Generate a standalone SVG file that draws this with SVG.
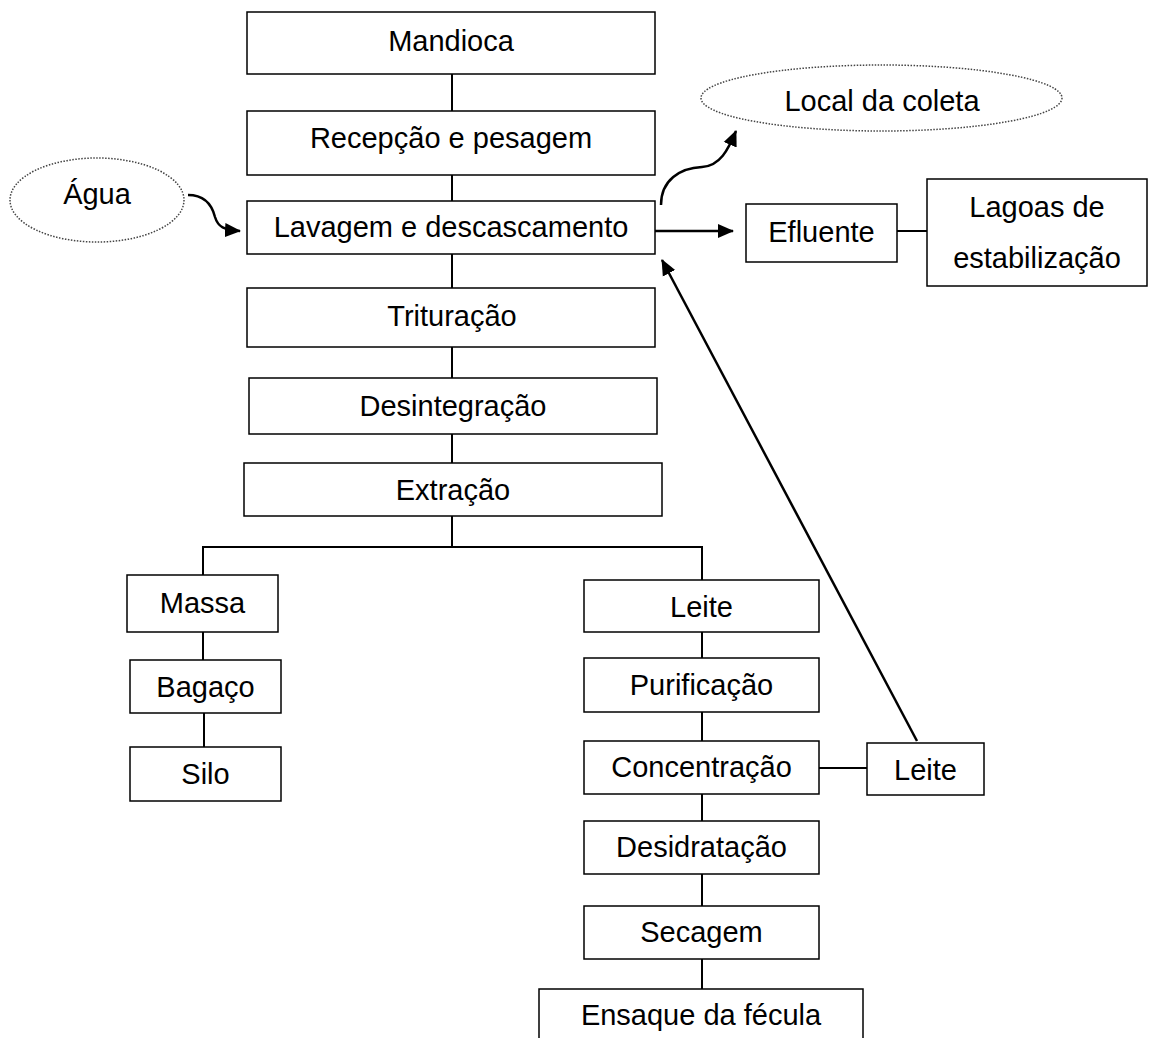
<svg xmlns="http://www.w3.org/2000/svg" width="1149" height="1038" viewBox="0 0 1149 1038">
<defs>
<style>
.box{fill:#fff;stroke:#000;stroke-width:1.5}
.ell{fill:#fff;stroke:#444;stroke-width:1.5;stroke-dasharray:1.5 1.5}
.t{font-family:"Liberation Sans",Arial,sans-serif;font-size:29px;fill:#000;text-anchor:middle}
.c{stroke:#000;stroke-width:2;fill:none}
.a{stroke:#000;stroke-width:2.5;fill:none}
</style>
<marker id="ah" markerWidth="10" markerHeight="10" refX="9" refY="5" orient="auto" markerUnits="userSpaceOnUse" viewBox="0 0 10 10">
<path d="M0,0 L10,5 L0,10 Z" fill="#000"/>
</marker>
<marker id="ahb" markerWidth="16" markerHeight="16" refX="15" refY="8" orient="auto" markerUnits="userSpaceOnUse" viewBox="0 0 16 16">
<path d="M0,1 L16,8 L0,15 Z" fill="#000"/>
</marker>
</defs>
<rect width="1149" height="1038" fill="#fff"/>
<g id="connectors">
<line class="c" x1="452" y1="74" x2="452" y2="111"/>
<line class="c" x1="452" y1="175" x2="452" y2="201"/>
<line class="c" x1="452" y1="254" x2="452" y2="288"/>
<line class="c" x1="452" y1="347" x2="452" y2="378"/>
<line class="c" x1="452" y1="434" x2="452" y2="463"/>
<line class="c" x1="452" y1="516" x2="452" y2="547"/>
<polyline class="c" points="203,575 203,547 702,547 702,580"/>
<line class="c" x1="203" y1="632" x2="203" y2="660"/>
<line class="c" x1="204" y1="713" x2="204" y2="747"/>
<line class="c" x1="702" y1="632" x2="702" y2="658"/>
<line class="c" x1="702" y1="712" x2="702" y2="741"/>
<line class="c" x1="702" y1="794" x2="702" y2="821"/>
<line class="c" x1="702" y1="874" x2="702" y2="906"/>
<line class="c" x1="702" y1="959" x2="702" y2="989"/>
<line class="c" x1="819" y1="768" x2="867" y2="768"/>
<line class="c" x1="897" y1="231" x2="927" y2="231"/>
<line class="a" x1="655" y1="231" x2="733" y2="231" marker-end="url(#ahb)"/>
<line class="a" x1="917" y1="741" x2="662" y2="260" marker-end="url(#ahb)"/>
<path class="a" d="M188,195 C205,195 212,205 215,217 C218,227 224,230 240,231" marker-end="url(#ahb)"/>
<path class="a" d="M661,205 C661,180 680,168 702,167 C720,166 728,150 736,131" marker-end="url(#ahb)"/>
</g>
<g id="mandioca"><rect class="box" x="247" y="12" width="408" height="62"/><text class="t" x="451" y="51">Mandioca</text></g>
<g id="recepcao"><rect class="box" x="247" y="111" width="408" height="64"/><text class="t" x="451" y="148">Recepção e pesagem</text></g>
<g id="lavagem"><rect class="box" x="247" y="201" width="408" height="53"/><text class="t" x="451" y="237">Lavagem e descascamento</text></g>
<g id="agua"><ellipse class="ell" cx="97" cy="200" rx="87" ry="42"/><text class="t" x="97" y="204">Água</text></g>
<g id="local"><ellipse class="ell" cx="881.5" cy="98" rx="180.5" ry="33"/><text class="t" x="882" y="111">Local da coleta</text></g>
<g id="efluente"><rect class="box" x="746" y="204" width="151" height="58"/><text class="t" x="821.5" y="242">Efluente</text></g>
<g id="lagoas"><rect class="box" x="927" y="179" width="220" height="107"/><text class="t" x="1037" y="217">Lagoas de</text><text class="t" x="1037" y="268">estabilização</text></g>
<g id="trituracao"><rect class="box" x="247" y="288" width="408" height="59"/><text class="t" x="452" y="326">Trituração</text></g>
<g id="desintegracao"><rect class="box" x="249" y="378" width="408" height="56"/><text class="t" x="453" y="416">Desintegração</text></g>
<g id="extracao"><rect class="box" x="244" y="463" width="418" height="53"/><text class="t" x="453" y="500">Extração</text></g>
<g id="massa"><rect class="box" x="127" y="575" width="151" height="57"/><text class="t" x="202.5" y="613">Massa</text></g>
<g id="bagaco"><rect class="box" x="130" y="660" width="151" height="53"/><text class="t" x="205.5" y="697">Bagaço</text></g>
<g id="silo"><rect class="box" x="130" y="747" width="151" height="54"/><text class="t" x="205.5" y="784">Silo</text></g>
<g id="leite"><rect class="box" x="584" y="580" width="235" height="52"/><text class="t" x="701.5" y="617">Leite</text></g>
<g id="purificacao"><rect class="box" x="584" y="658" width="235" height="54"/><text class="t" x="701.5" y="695">Purificação</text></g>
<g id="concentracao"><rect class="box" x="584" y="741" width="235" height="53"/><text class="t" x="701.5" y="777">Concentração</text></g>
<g id="leite2"><rect class="box" x="867" y="743" width="117" height="52"/><text class="t" x="925.5" y="780">Leite</text></g>
<g id="desidratacao"><rect class="box" x="584" y="821" width="235" height="53"/><text class="t" x="701.5" y="857">Desidratação</text></g>
<g id="secagem"><rect class="box" x="584" y="906" width="235" height="53"/><text class="t" x="701.5" y="942">Secagem</text></g>
<g id="ensaque"><rect class="box" x="539" y="989" width="324" height="60"/><text class="t" x="701" y="1025">Ensaque da fécula</text></g>
</svg>
